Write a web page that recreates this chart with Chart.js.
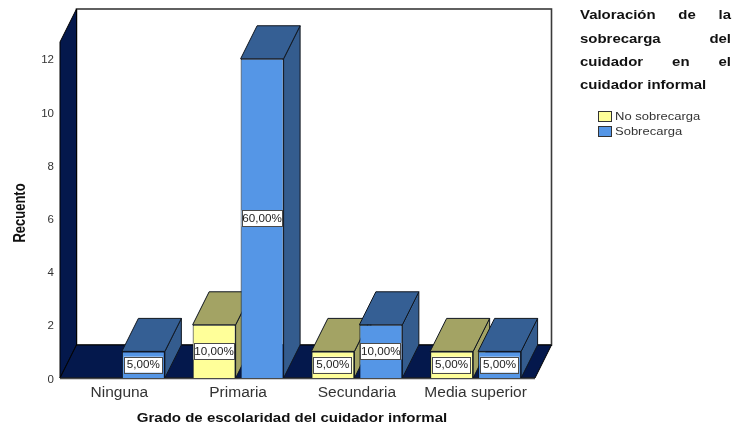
<!DOCTYPE html>
<html>
<head>
<meta charset="utf-8">
<style>html,body{margin:0;padding:0;background:#fff}#w{position:relative;width:733px;height:427px}</style>
<script src="https://cdn.jsdelivr.net/npm/chart.js@4"></script>
</head>
<body>
<div id="w"><canvas id="c" width="733" height="427"></canvas></div>
<script>
const categories = ["Ninguna", "Primaria", "Secundaria", "Media superior"];
const noSobrecarga = [null, 2, 1, 1];
const sobrecarga = [1, 12, 2, 1];
const noSobrecargaPct = [null, "10,00%", "5,00%", "5,00%"];
const sobrecargaPct = ["5,00%", "60,00%", "10,00%", "5,00%"];
const seriesNames = ["No sobrecarga", "Sobrecarga"];
const yTicks = [0, 2, 4, 6, 8, 10, 12];
const xTitle = "Grado de escolaridad del cuidador informal";
const yTitle = "Recuento";
const legendTitle = [["Valoración", "de", "la"], ["sobrecarga", "del"], ["cuidador", "en", "el"], ["cuidador informal"]];

const DX = 16.5, DY = -33;
const EDGE = "#10161f";
const NAVY = "#04184c";
const FF = '"Liberation Sans", Arial, sans-serif';

function poly(ctx, pts, fill, stroke, lw) {
  ctx.beginPath();
  pts.forEach((p, i) => i ? ctx.lineTo(p[0], p[1]) : ctx.moveTo(p[0], p[1]));
  ctx.closePath();
  if (fill) { ctx.fillStyle = fill; ctx.fill(); }
  if (stroke) { ctx.strokeStyle = stroke; ctx.lineWidth = lw || 1; ctx.stroke(); }
}
function stretched(ctx, text, x, y, sx, align) {
  ctx.save();
  ctx.translate(x, y);
  ctx.scale(sx, 1);
  ctx.textAlign = align || "left";
  ctx.textBaseline = "middle";
  ctx.fillText(text, 0, 0);
  ctx.restore();
}
function drawFaces(chart, index) {
  const { ctx } = chart;
  const ds = chart.data.datasets[index];
  ctx.save();
  chart.getDatasetMeta(index).data.forEach((bar, i) => {
    if (ds.data[i] == null) return;
    const l = bar.x - bar.width / 2, r = bar.x + bar.width / 2, t = bar.y, b = bar.base;
    poly(ctx, [[r, b], [r + DX, b + DY], [r + DX, t + DY], [r, t]], ds.sideColor, EDGE);
    poly(ctx, [[l, t], [l + DX, t + DY], [r + DX, t + DY], [r, t]], ds.topColor, EDGE);
  });
  ctx.restore();
}

const room3d = {
  id: "room3d",
  beforeDatasetsDraw(chart) {
    const { ctx, chartArea: a } = chart;
    const L = a.left, R = a.right, T = a.top, B = a.bottom;
    ctx.save();
    poly(ctx, [[L + DX, T + DY], [R + DX, T + DY], [R + DX, B + DY], [L + DX, B + DY]], "#ffffff", null);
    ctx.strokeStyle = "#3a3a3a"; ctx.lineWidth = 1.6;
    ctx.strokeRect(L + DX, T + DY, R - L, B - T);
    poly(ctx, [[L, T], [L + DX, T + DY], [L + DX, B + DY], [L, B]], NAVY, "#000000", 1);
    poly(ctx, [[L, B], [L + DX, B + DY], [R + DX, B + DY], [R, B]], NAVY, "#000000", 1);
    ctx.strokeStyle = "#4a4a4a"; ctx.lineWidth = 1.6;
    ctx.beginPath(); ctx.moveTo(L, B + .5); ctx.lineTo(R, B + .5); ctx.stroke();
    ctx.restore();
  },
  beforeDatasetDraw(chart, args) {
    if (args.index === 1) return false;
    drawFaces(chart, 0);
  },
  afterDatasetDraw(chart, args) {
    if (args.index !== 0) return;
    drawFaces(chart, 1);
    chart.getDatasetMeta(1).controller.draw();
  },
  afterDatasetsDraw(chart) {
    const { ctx } = chart;
    ctx.save();
    chart.data.datasets.forEach((ds, k) => {
      chart.getDatasetMeta(k).data.forEach((bar, i) => {
        const txt = ds.pctLabels[i];
        if (!txt) return;
        ctx.font = "11px " + FF;
        const w = Math.min(ctx.measureText(txt).width * 1.06 + 6, bar.width - 2), h = 16;
        const cx = bar.x, cy = (bar.y + bar.base) / 2;
        ctx.fillStyle = "#ffffff";
        ctx.fillRect(cx - w / 2, cy - h / 2, w, h);
        ctx.strokeStyle = "#4a4a4a"; ctx.lineWidth = 1;
        ctx.strokeRect(Math.round(cx - w / 2) + .5, Math.round(cy - h / 2) + .5, Math.round(w) - 1, h);
        ctx.fillStyle = "#222222";
        stretched(ctx, txt, cx, cy + .5, 1.06, "center");
      });
    });
    ctx.restore();
  },
  afterDraw(chart) {
    const { ctx } = chart;
    ctx.save();
    ctx.fillStyle = "#111111";
    ctx.font = "bold 13px " + FF;
    stretched(ctx, xTitle, 292, 418, 1.155, "center");
    ctx.save();
    ctx.translate(21, 213);
    ctx.scale(1.25, 1);
    ctx.rotate(-Math.PI / 2);
    ctx.textAlign = "center"; ctx.textBaseline = "middle";
    ctx.fillText(yTitle, 0, 0);
    ctx.restore();

    const x0 = 580, x1 = 731, lineY = [15, 39, 62, 85], sx = 1.15;
    legendTitle.forEach((words, n) => {
      const widths = words.map(w => ctx.measureText(w).width * sx);
      const total = widths.reduce((s, v) => s + v, 0);
      const gap = words.length > 1 ? (x1 - x0 - total) / (words.length - 1) : 0;
      let x = x0;
      words.forEach((w, i) => { stretched(ctx, w, x, lineY[n], sx, "left"); x += widths[i] + gap; });
    });

    const sw = [[598.5, 111, "#ffff99"], [598.5, 126, "#5596e6"]];
    sw.forEach((s, i) => {
      ctx.fillStyle = s[2];
      ctx.fillRect(s[0], s[1], 13, 10);
      ctx.strokeStyle = "#333333"; ctx.lineWidth = 1;
      ctx.strokeRect(s[0], s[1] + .5, 13, 10);
      ctx.fillStyle = "#333333";
      ctx.font = "11.5px " + FF;
      stretched(ctx, seriesNames[i], 615, s[1] + 6, 1.13, "left");
    });
    ctx.restore();
  }
};

new Chart(document.getElementById("c"), {
  type: "bar",
  data: {
    labels: categories,
    datasets: [
      { label: seriesNames[0], data: noSobrecarga, pctLabels: noSobrecargaPct,
        backgroundColor: "#ffff99", borderColor: EDGE, borderWidth: 1,
        topColor: "#a3a364", sideColor: "#a3a364" },
      { label: seriesNames[1], data: sobrecarga, pctLabels: sobrecargaPct,
        backgroundColor: "#5596e6", borderColor: EDGE, borderWidth: 1,
        topColor: "#355f94", sideColor: "#345c8e" }
    ]
  },
  options: {
    responsive: false,
    animation: false,
    layout: { padding: { left: 0, right: 198, top: 42, bottom: 0 } },
    datasets: { bar: { categoryPercentage: 0.808, barPercentage: 0.896 } },
    plugins: { legend: { display: false }, title: { display: false }, tooltip: { enabled: false } },
    scales: {
      x: {
        afterFit(s) { s.height = 49; },
        grid: { display: false, drawTicks: false },
        border: { display: false },
        ticks: { color: "#333333", font: { family: FF, size: 15.5 }, padding: 5, maxRotation: 0, autoSkip: false }
      },
      y: {
        min: 0, max: 12.63,
        afterFit(s) { s.width = 60; },
        afterBuildTicks(s) { s.ticks = yTicks.map(v => ({ value: v })); },
        grid: { display: false, drawTicks: false },
        border: { display: false },
        ticks: { color: "#333333", font: { family: FF, size: 11.5, lineHeight: "3px" }, padding: 6,
                 callback: v => ["", String(v)] }
      }
    }
  },
  plugins: [room3d]
});
</script>
</body>
</html>
